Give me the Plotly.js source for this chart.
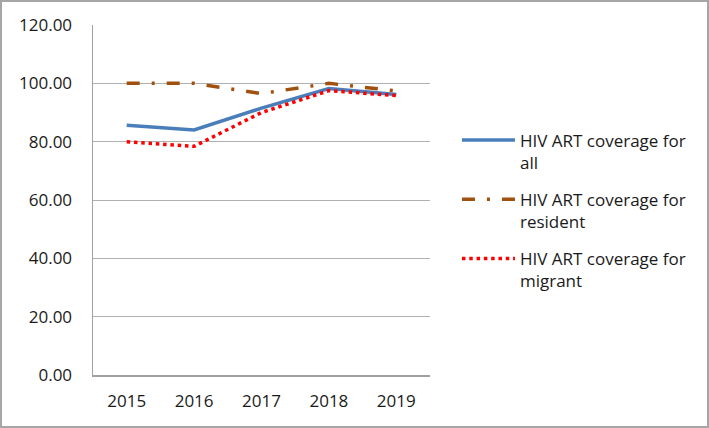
<!DOCTYPE html>
<html><head><meta charset="utf-8">
<script src="https://cdn.plot.ly/plotly-3.0.1.min.js"></script>
<style>html,body{margin:0;padding:0;background:#fff}#wrap{position:relative;width:709px;height:428px}#chart{width:709px;height:428px}#frame{position:absolute;left:0;top:0;width:705px;height:424px;border:2px solid #a6a6a6;pointer-events:none}</style>
</head><body><div id="wrap"><div id="chart"></div><div id="frame"></div></div>
<script>
const years = ['2015','2016','2017','2018','2019'];
const allVals = [85.6, 84.0, 91.5, 98.2, 96.2];
const residentVals = [100.0, 100.0, 96.5, 100.0, 97.4];
const migrantVals = [80.0, 78.4, 90.0, 97.5, 95.8];
const names = ['HIV ART coverage for<br>all','HIV ART coverage for<br>resident','HIV ART coverage for<br>migrant'];
const yTicks = [0,20,40,60,80,100,120];
const yTickText = yTicks.map(v=>v.toFixed(2));

const traces = [
 {x:years,y:allVals,name:names[0],legendgroup:'a',mode:'lines',line:{color:'#4a7ebb',width:3.5}},
 {x:years,y:residentVals,name:names[1],legendgroup:'b',mode:'lines',line:{color:'#a0500f',width:3.5,dash:'13px,12px,3px,12px'}},
 {x:years,y:migrantVals,name:names[2],legendgroup:'c',mode:'lines',line:{color:'#ff0000',width:3.5,dash:'3.5px,3.8px'}}
];
const layout = {
 width:709,height:428,
 margin:{l:93,r:279,t:25,b:53},
 paper_bgcolor:'#fff',plot_bgcolor:'#fff',
 font:{family:'"Open Sans", sans-serif',size:17,color:'#1a1a1a'},
 showlegend:true,
 legend:{x:1.08,y:0.47,yanchor:'middle',xanchor:'left',valign:'top',font:{size:17},tracegroupgap:12,itemwidth:53,bgcolor:'rgba(0,0,0,0)'},
 xaxis:{type:'category',range:[-0.5,4.5],showgrid:false,showline:true,linecolor:'#a0a0a0',linewidth:1.5,ticks:'',tickfont:{size:17},ticklabelstandoff:10,zeroline:false,fixedrange:true},
 yaxis:{range:[0,120],tickvals:yTicks,ticktext:yTickText,showgrid:true,gridcolor:'#b0b0b0',gridwidth:1,showline:true,linecolor:'#a0a0a0',linewidth:1.5,ticks:'',ticklabelstandoff:16,zeroline:false,tickfont:{size:17},fixedrange:true}
};
Plotly.newPlot('chart',traces,layout,{displayModeBar:false,staticPlot:true});
</script></body></html>
